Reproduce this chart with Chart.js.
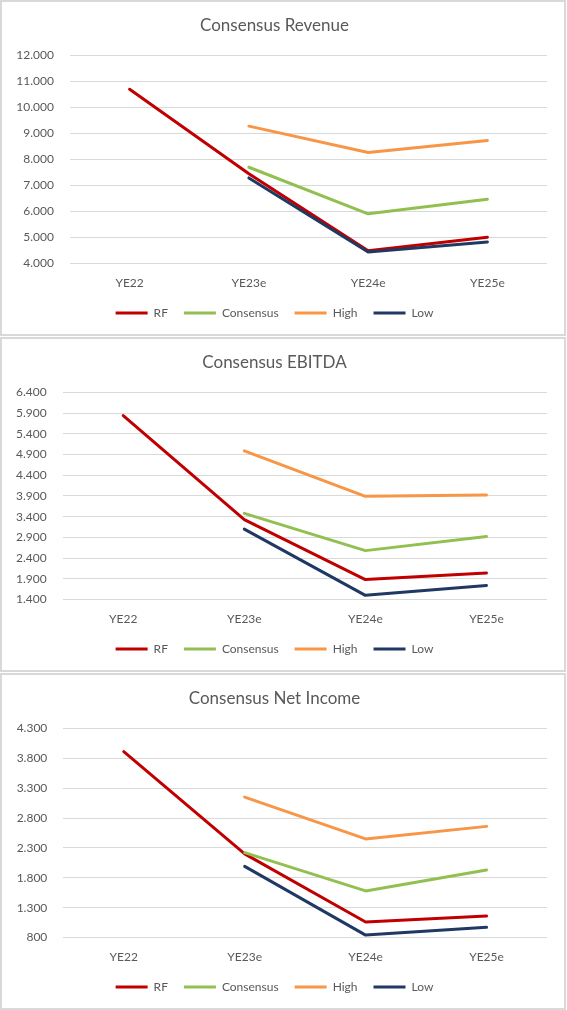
<!DOCTYPE html>
<html>
<head>
<meta charset="utf-8">
<script src="https://cdn.jsdelivr.net/npm/chart.js@4"></script>
<style>
  body { margin: 0; background: #ffffff; }
  .panel { position: absolute; left: 0; width: 566px; box-sizing: border-box; border: 2px solid #d9d9d9; background: #fff; }
  .panel canvas { display: block; }
</style>
</head>
<body>
<div class="panel" style="top:0px;height:336px"><canvas id="revenueChart" width="562" height="332"></canvas></div>
<div class="panel" style="top:337px;height:335px"><canvas id="ebitdaChart" width="562" height="331"></canvas></div>
<div class="panel" style="top:673px;height:337px"><canvas id="netChart" width="562" height="333"></canvas></div>
<script>
// kategorie (lata)
var categories = ['YE22', 'YE23e', 'YE24e', 'YE25e'];
var seriesNames = ['RF', 'Consensus', 'High', 'Low'];

// Consensus Revenue
var revenueRF = [10700, 7450, 4490, 5010];
var revenueConsensus = [null, 7700, 5910, 6470];
var revenueHigh = [null, 9280, 8270, 8730];
var revenueLow = [null, 7290, 4440, 4830];

// Consensus EBITDA
var ebitdaRF = [5840, 3330, 1880, 2040];
var ebitdaConsensus = [null, 3480, 2580, 2920];
var ebitdaHigh = [null, 4990, 3890, 3920];
var ebitdaLow = [null, 3100, 1500, 1740];

// Consensus Net Income
var netRF = [3910, 2200, 1060, 1160];
var netConsensus = [null, 2220, 1580, 1930];
var netHigh = [null, 3150, 2450, 2660];
var netLow = [null, 1990, 840, 970];

// zakresy osi Y: min, max, krok
var revenueTicks = [4000, 12000, 1000];
var ebitdaTicks = [1400, 6400, 500];
var netTicks = [800, 4300, 500];

var colors = ['#c00000', '#92c050', '#f79646', '#1f3864'];
var textColor = '#595959';
var fontFamily = 'Lato, "Open Sans", sans-serif';

function formatThousands(v) {
    return String(v).replace(/\B(?=(\d{3})+(?!\d))/g, '.');
}

function createChart(canvasId, title, data, ticks, plotLeft) {
    var ctx = document.getElementById(canvasId).getContext('2d');
    var datasets = data.map(function (values, i) {
        return {
            label: seriesNames[i],
            data: values,
            borderColor: colors[i],
            backgroundColor: colors[i],
            borderWidth: 3,
            pointRadius: 0,
            tension: 0,
            borderCapStyle: 'round',
            borderJoinStyle: 'round',
            // ostatnia seria rysowana na wierzchu
            order: data.length - i
        };
    });
    var legendPadding = 16;

    return new Chart(ctx, {
        type: 'line',
        data: { labels: categories, datasets: datasets },
        options: {
            responsive: false,
            animation: false,
            layout: { padding: { left: 0, right: 17, top: 0, bottom: 5 } },
            plugins: {
                title: {
                    display: true,
                    text: title,
                    color: textColor,
                    font: { family: fontFamily, size: 17, weight: 'normal' },
                    padding: { top: 13, bottom: 20 }
                },
                legend: {
                    position: 'bottom',
                    labels: {
                        color: textColor,
                        font: { family: fontFamily, size: 12 },
                        boxWidth: 32,
                        boxHeight: 3,
                        padding: legendPadding,
                        sort: function (a, b) { return a.datasetIndex - b.datasetIndex; },
                        generateLabels: function (chart) {
                            var items = Chart.defaults.plugins.legend.labels.generateLabels(chart);
                            items.forEach(function (it) {
                                it.lineWidth = 0;
                                it.fillStyle = it.strokeStyle;
                            });
                            return items;
                        }
                    }
                },
                tooltip: { enabled: false }
            },
            scales: {
                x: {
                    offset: true,
                    grid: { display: false, drawTicks: false },
                    border: { display: false },
                    ticks: { color: textColor, font: { family: fontFamily, size: 12 }, padding: 12 },
                    afterFit: function (scale) { scale.height = 43.5 - legendPadding; }
                },
                y: {
                    min: ticks[0],
                    max: ticks[1],
                    grid: { color: '#d9d9d9', lineWidth: 1, drawTicks: false },
                    border: { display: false },
                    ticks: {
                        stepSize: ticks[2],
                        color: textColor,
                        font: { family: fontFamily, size: 12 },
                        padding: 16,
                        callback: function (v) { return formatThousands(v); }
                    },
                    afterFit: function (scale) { scale.width = plotLeft; }
                }
            }
        }
    });
}

var revenueChart = createChart('revenueChart', 'Consensus Revenue',
    [revenueRF, revenueConsensus, revenueHigh, revenueLow], revenueTicks, 68);
var ebitdaChart = createChart('ebitdaChart', 'Consensus EBITDA',
    [ebitdaRF, ebitdaConsensus, ebitdaHigh, ebitdaLow], ebitdaTicks, 60.7);
var netChart = createChart('netChart', 'Consensus Net Income',
    [netRF, netConsensus, netHigh, netLow], netTicks, 61.3);
</script>
</body>
</html>
